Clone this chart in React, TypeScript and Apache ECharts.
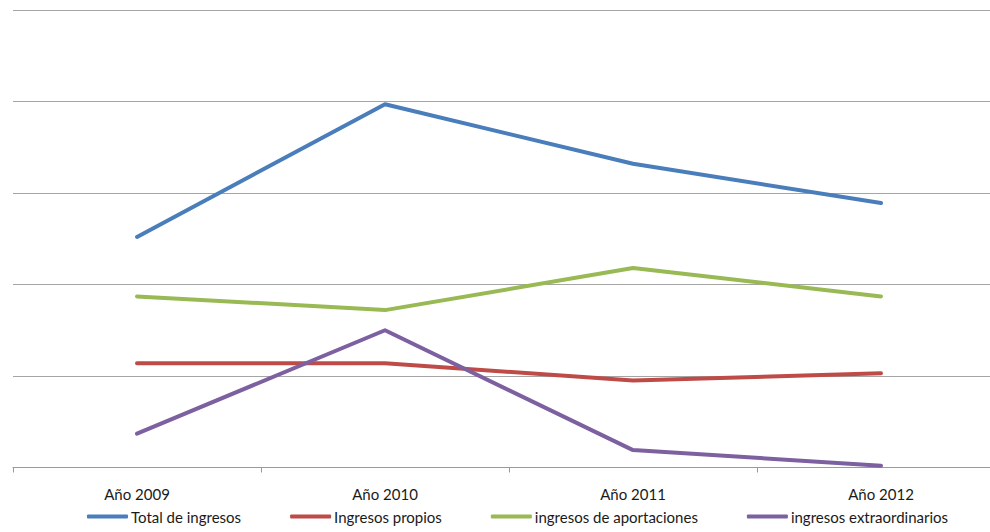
import React, { useEffect, useRef } from "react";
import * as echarts from "echarts";

const categories = ["Año 2009", "Año 2010", "Año 2011", "Año 2012"];
const seriesNames = [
  "Total de ingresos",
  "Ingresos propios",
  "ingresos de aportaciones",
  "ingresos extraordinarios",
];
const totalIngresos = [25.2, 39.7, 33.2, 28.9];
const ingresosPropios = [11.4, 11.4, 9.5, 10.3];
const ingresosAportaciones = [18.7, 17.2, 21.8, 18.7];
const ingresosExtraordinarios = [3.7, 15.0, 1.9, 0.2];
const colors = ["#4A7EBB", "#BE4B48", "#98B954", "#7D60A0"];

export default function App() {
  const ref = useRef<HTMLDivElement>(null);
  useEffect(() => {
    if (!ref.current) return;
    const chart = echarts.init(ref.current, null, { renderer: "svg" });
    const values = [totalIngresos, ingresosPropios, ingresosAportaciones, ingresosExtraordinarios];
    const font = "Lato, 'Open Sans', sans-serif";
    chart.setOption({
      animation: false,
      backgroundColor: "#ffffff",
      color: colors,
      grid: { left: 13, top: 10, right: 0, height: 457.5 },
      legend: {
        left: 87,
        top: 509,
        width: 900,
        padding: 0,
        itemWidth: 41,
        itemHeight: 4,
        itemGap: 49,
        icon: "roundRect",
        textStyle: { fontFamily: font, fontSize: 15, color: "#1a1a1a", padding: [0, 0, 0, -2] },
        data: seriesNames,
      },
      xAxis: {
        type: "category",
        data: categories,
        boundaryGap: true,
        axisLine: { lineStyle: { color: "#9a9a9a", width: 1.2 } },
        axisTick: { show: true, length: 5, lineStyle: { color: "#9a9a9a" } },
        axisLabel: { fontFamily: font, fontSize: 15, color: "#1a1a1a", margin: 19 },
      },
      yAxis: {
        type: "value",
        min: 0,
        max: 50,
        interval: 10,
        axisLabel: { show: false },
        axisLine: { show: false },
        axisTick: { show: false },
        splitLine: { lineStyle: { color: "#a5a5a5", width: 1.2 } },
      },
      series: seriesNames.map((name, i) => ({
        name,
        type: "line",
        data: values[i],
        symbol: "none",
        lineStyle: { width: 4, color: colors[i], cap: "round", join: "round" },
        itemStyle: { color: colors[i] },
      })),
    });
    return () => chart.dispose();
  }, []);
  return (
    <div
      ref={ref}
      style={{ position: "fixed", left: 0, top: 0, width: 1005, height: 532 }}
    />
  );
}
